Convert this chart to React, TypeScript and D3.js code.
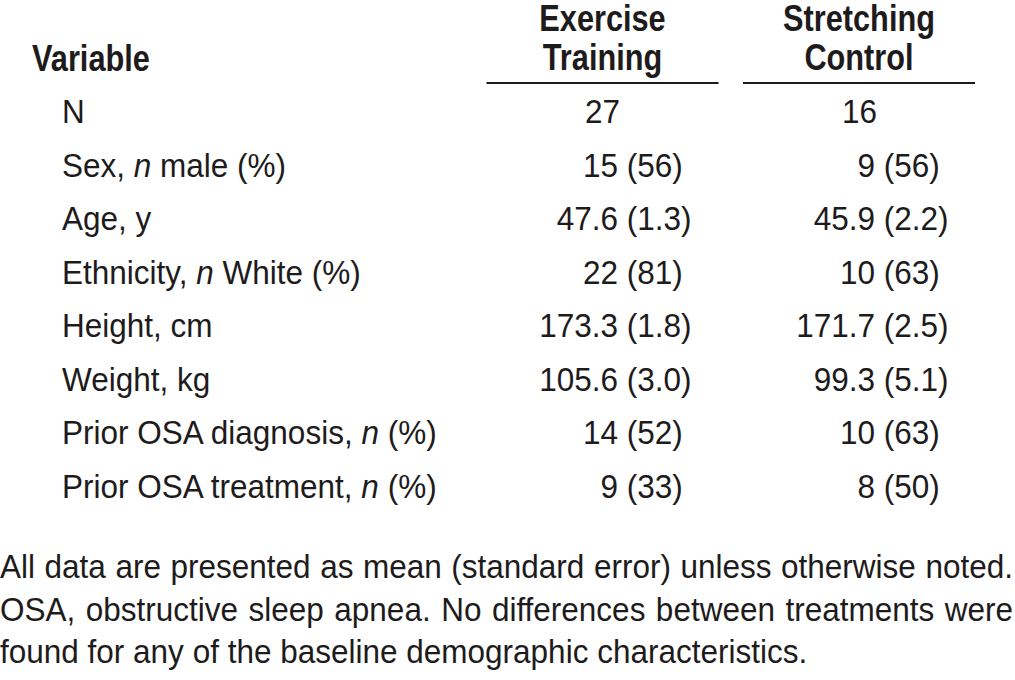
import React, { useEffect, useRef } from "react";
import * as d3 from "d3";

const W = 1015;
const H = 680;

const headerVariable = "Variable";
const groupHeaders = [
  ["Exercise", "Training"],
  ["Stretching", "Control"],
];

// label parts: [text, italic?]
const variables: [string, boolean][][] = [
  [["N", false]],
  [["Sex, ", false], ["n", true], [" male (%)", false]],
  [["Age, y", false]],
  [["Ethnicity, ", false], ["n", true], [" White (%)", false]],
  [["Height, cm", false]],
  [["Weight, kg", false]],
  [["Prior OSA diagnosis, ", false], ["n", true], [" (%)", false]],
  [["Prior OSA treatment, ", false], ["n", true], [" (%)", false]],
];

const exerciseMain = ["27", "15", "47.6", "22", "173.3", "105.6", "14", "9"];
const exerciseParen = ["", "(56)", "(1.3)", "(81)", "(1.8)", "(3.0)", "(52)", "(33)"];
const stretchMain = ["16", "9", "45.9", "10", "171.7", "99.3", "10", "8"];
const stretchParen = ["", "(56)", "(2.2)", "(63)", "(2.5)", "(5.1)", "(63)", "(50)"];

const footnoteLines = [
  "All data are presented as mean (standard error) unless otherwise noted.",
  "OSA, obstructive sleep apnea. No differences between treatments were",
  "found for any of the baseline demographic characteristics.",
];

const INK = "#1e1b1c";
const FONT = "'Liberation Sans', Arial, Helvetica, sans-serif";

const BODY_FS = 33;
const BODY_SX = 0.955;
const FOOT_FS = 33;
const FOOT_SX = 0.955;

export default function App() {
  const footRef = useRef<SVGGElement>(null);

  const rowY = d3
    .scaleLinear()
    .domain([0, variables.length - 1])
    .range([123, 498]);

  const colCenters = [602.5, 859];
  const colNumRight = [618, 875];
  const ruleHalf = 116;

  const footY = d3.scaleLinear().domain([0, 2]).range([578, 663]);

  useEffect(() => {
    if (!footRef.current) return;
    const g = d3.select(footRef.current);
    g.selectAll("text").each(function (_d, i) {
      const t = this as SVGTextElement;
      if (i < 2) {
        const words = (t.textContent || "").split(" ").length - 1;
        const len = t.getComputedTextLength();
        const target = 1013 / FOOT_SX;
        const extra = (target - len) / Math.max(words, 1);
        d3.select(t).attr("word-spacing", extra);
      }
    });
  }, []);

  const data = [
    { main: exerciseMain, paren: exerciseParen },
    { main: stretchMain, paren: stretchParen },
  ];

  const spaceW = 0.278 * BODY_FS * BODY_SX;

  return (
    <svg
      width={W}
      height={H}
      viewBox={`0 0 ${W} ${H}`}
      style={{ position: "absolute", left: 0, top: 0, background: "#fff" }}
      fontFamily={FONT}
    >
      <rect width={W} height={H} fill="#fff" />
      {/* Header */}
      <text
        transform={`translate(32,71) scale(0.82,1)`}
        fontWeight="bold"
        fontSize={37.5}
        fill={INK}
      >
        {headerVariable}
      </text>
      {groupHeaders.map((lines, c) => (
        <g key={c}>
          {lines.map((ln, j) => (
            <text
              key={j}
              transform={`translate(${colCenters[c]},${j === 0 ? 31 : 70}) scale(0.83,1)`}
              textAnchor="middle"
              fontWeight="bold"
              fontSize={37}
              fill={INK}
            >
              {ln}
            </text>
          ))}
          <line
            x1={colCenters[c] - ruleHalf}
            x2={colCenters[c] + ruleHalf}
            y1={83}
            y2={83}
            stroke={INK}
            strokeWidth={2.2}
          />
        </g>
      ))}

      {/* Rows */}
      {variables.map((parts, i) => (
        <g key={i}>
          <text
            transform={`translate(62,${rowY(i)}) scale(${BODY_SX},1)`}
            fontSize={BODY_FS}
            fill={INK}
          >
            {parts.map(([t, it], k) => (
              <tspan key={k} fontStyle={it ? "italic" : "normal"}>
                {t}
              </tspan>
            ))}
          </text>
          {data.map((col, c) => (
            <g key={c}>
              <text
                transform={`translate(${colNumRight[c] + (col.paren[i] ? 0 : 2)},${rowY(i)}) scale(${BODY_SX},1)`}
                textAnchor="end"
                fontSize={BODY_FS}
                fill={INK}
              >
                {col.main[i]}
              </text>
              {col.paren[i] && (
                <text
                  transform={`translate(${colNumRight[c] + spaceW},${rowY(i)}) scale(${BODY_SX},1)`}
                  fontSize={BODY_FS}
                  fill={INK}
                >
                  {col.paren[i]}
                </text>
              )}
            </g>
          ))}
        </g>
      ))}

      {/* Footnote */}
      <g ref={footRef}>
        {footnoteLines.map((ln, i) => (
          <text
            key={i}
            transform={`translate(0,${footY(i)}) scale(${FOOT_SX},1)`}
            fontSize={FOOT_FS}
            fill={INK}
          >
            {ln}
          </text>
        ))}
      </g>
    </svg>
  );
}
